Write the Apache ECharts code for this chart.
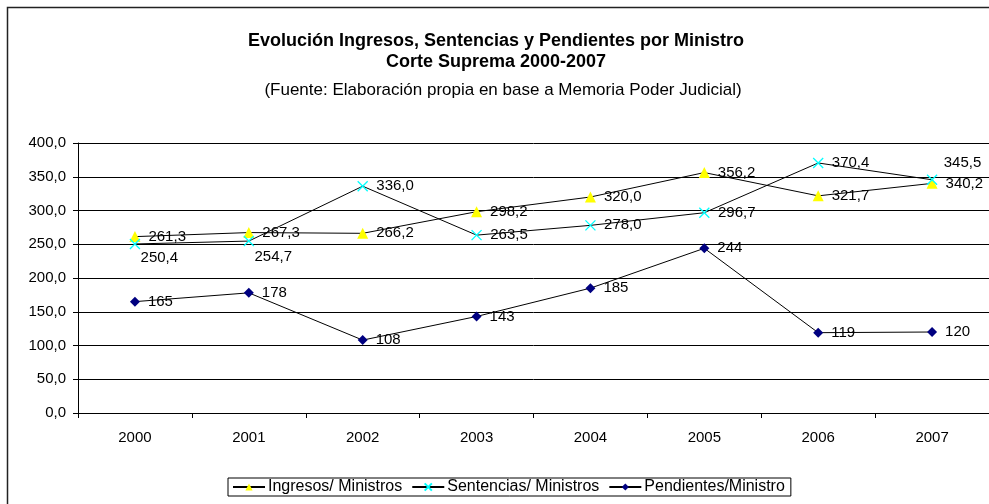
<!DOCTYPE html>
<html>
<head>
<meta charset="utf-8">
<script src="https://cdn.jsdelivr.net/npm/echarts@6/dist/echarts.min.js"></script>
<style>
  html, body { margin: 0; padding: 0; background: #fff; }
  #main { width: 989px; height: 504px; }
</style>
</head>
<body>
<div id="main"></div>
<script>
// datos
var years = ['2000', '2001', '2002', '2003', '2004', '2005', '2006', '2007'];
var ingresos = [261.3, 267.3, 266.2, 298.2, 320.0, 356.2, 321.7, 340.2];
var sentencias = [250.4, 254.7, 336.0, 263.5, 278.0, 296.7, 370.4, 345.5];
var pendientes = [165, 178, 108, 143, 185, 244, 119, 120];
var yTicks = [0, 50, 100, 150, 200, 250, 300, 350, 400];

var myChart = echarts.init(document.getElementById('main'));

var font = 'Liberation Sans, Arial, sans-serif';
var crossPath = 'path://M0,0L10,10M10,0L0,10';

function coma(v, dec) {
    return v.toFixed(dec).replace('.', ',');
}

// desplazamientos de etiquetas que no van a la derecha
var offSent = { 0: [-8, 14], 1: [-8, 16], 7: [-2, -17] };

function buildData(vals, offs) {
    return vals.map(function (v, i) {
        var d = { value: v };
        if (offs && offs[i]) d.label = { offset: offs[i] };
        return d;
    });
}

var labelBase = {
    show: true,
    position: 'right',
    distance: 8,
    color: '#000',
    fontFamily: font,
    fontSize: 15
};

var option = {
    animation: false,
    title: [{
        text: 'Evolución Ingresos, Sentencias y Pendientes por Ministro\nCorte Suprema 2000-2007',
        left: 491, top: 26, textAlign: 'center',
        textStyle: { fontFamily: font, fontSize: 18, fontWeight: 'bold', color: '#000', lineHeight: 21 }
    }, {
        text: '(Fuente: Elaboración propia en base a Memoria Poder Judicial)',
        left: 498, top: 77, textAlign: 'center',
        textStyle: { fontFamily: font, fontSize: 17, fontWeight: 'normal', color: '#000' }
    }],
    graphic: [{
        type: 'rect',
        shape: { x: 7.5, y: 7.5, width: 1000, height: 520 },
        style: { fill: 'none', stroke: '#222', lineWidth: 1.5 }
    }],
    legend: {
        left: 228, top: 478,
        width: 720,
        padding: [1, 6, 1, 4],
        borderColor: '#000', borderWidth: 1,
        itemWidth: 32, itemHeight: 9, itemGap: 9,
        textStyle: { fontFamily: font, fontSize: 16, color: '#000', padding: [0, 0, 0, -2] },
        data: ['Ingresos/ Ministros', 'Sentencias/ Ministros', 'Pendientes/Ministro']
    },
    grid: { left: 78, right: -1, top: 143, bottom: 91 },
    xAxis: {
        type: 'category',
        data: years,
        boundaryGap: true,
        axisLine: { lineStyle: { color: '#000', width: 1 } },
        axisTick: { show: true, length: 5, inside: false, lineStyle: { color: '#000' } },
        axisLabel: { color: '#000', fontFamily: font, fontSize: 15, margin: 17 }
    },
    yAxis: {
        type: 'value',
        min: yTicks[0], max: yTicks[yTicks.length - 1], interval: 50,
        axisLine: { show: true, lineStyle: { color: '#000' } },
        axisTick: { show: true, length: 5, lineStyle: { color: '#000' } },
        splitLine: { lineStyle: { color: '#000', width: 1 } },
        axisLabel: {
            color: '#000', fontFamily: font, fontSize: 15, margin: 12,
            formatter: function (v) { return coma(v, 1); }
        }
    },
    series: [{
        name: 'Ingresos/ Ministros',
        type: 'line',
        data: buildData(ingresos),
        symbol: 'triangle', symbolSize: 11,
        itemStyle: { color: '#ffff00', borderWidth: 0 },
        lineStyle: { color: '#000', width: 1 },
        label: Object.assign({ formatter: function (p) { return coma(p.value, 1); } }, labelBase),
        z: 3
    }, {
        name: 'Sentencias/ Ministros',
        type: 'line',
        data: buildData(sentencias, offSent),
        symbol: crossPath, symbolSize: 10,
        itemStyle: { color: '#00ffff', borderColor: '#00ffff', borderWidth: 1.3 },
        lineStyle: { color: '#000', width: 1 },
        label: Object.assign({ formatter: function (p) { return coma(p.value, 1); } }, labelBase),
        z: 4
    }, {
        name: 'Pendientes/Ministro',
        type: 'line',
        data: buildData(pendientes),
        symbol: 'diamond', symbolSize: 10,
        itemStyle: { color: '#000080', borderWidth: 0 },
        lineStyle: { color: '#000', width: 1 },
        label: Object.assign({ formatter: function (p) { return String(p.value); } }, labelBase),
        z: 3
    }]
};

myChart.setOption(option);
</script>
</body>
</html>
